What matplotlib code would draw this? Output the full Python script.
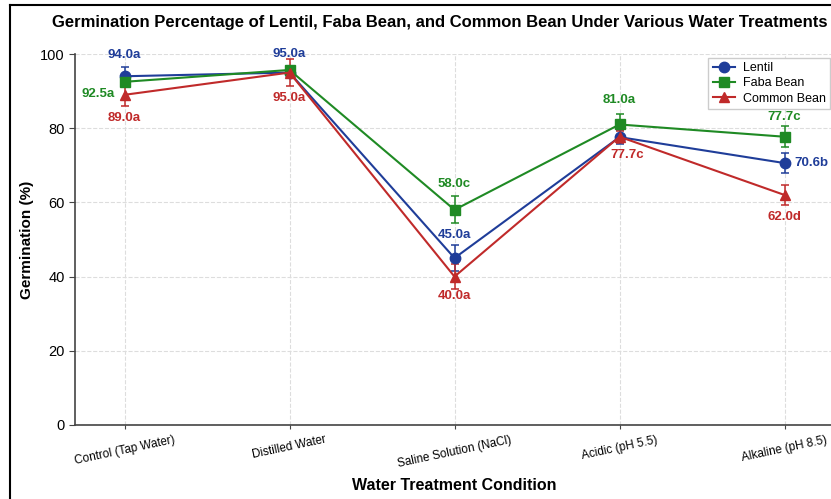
import matplotlib.pyplot as plt
from matplotlib.lines import Line2D
import numpy as np

plt.rcParams['font.family'] = ['Liberation Sans', 'DejaVu Sans']

# treatments on the x axis
treatments = ['Control (Tap Water)', 'Distilled Water', 'Saline Solution (NaCl)',
              'Acidic (pH 5.5)', 'Alkaline (pH 8.5)']

# mean germination (%) per crop
lentil = [94.0, 95.0, 45.0, 77.6, 70.6]
faba = [92.5, 95.7, 58.0, 81.0, 77.7]
common = [89.0, 95.0, 40.0, 77.7, 62.0]

# standard errors
lentil_err = [2.6, 1.6, 3.4, 1.8, 2.8]
faba_err = [1.2, 1.0, 3.6, 2.8, 2.8]
common_err = [3.0, 3.6, 3.4, 1.6, 2.8]

# significance letters (None = not printed)
lentil_sig = ['94.0a', '95.0a', '45.0a', None, '70.6b']
faba_sig = ['92.5a', None, '58.0c', '81.0a', '77.7c']
common_sig = ['89.0a', '95.0a', '40.0a', '77.7c', '62.0d']

c_lentil = '#1f3d99'
c_faba = '#1f8a24'
c_common = '#c02a2a'

fig = plt.figure(figsize=(8.31, 4.99), dpi=100)
ax = fig.add_axes([75 / 831, 74 / 499, 759 / 831, 371 / 499])
x = np.arange(len(treatments))

series = [
    ('Lentil', lentil, lentil_err, lentil_sig, c_lentil, 'o', 7.5),
    ('Faba Bean', faba, faba_err, faba_sig, c_faba, 's', 6.5),
    ('Common Bean', common, common_err, common_sig, c_common, '^', 7.5),
]
for name, vals, err, sig, col, mk, ms in series:
    ax.errorbar(x, vals, yerr=err, color=col, marker=mk, markersize=ms,
                linewidth=1.5, elinewidth=1.1, capsize=3, capthick=1.1,
                label=name, zorder=3)

# offsets of the value labels, in pixels from each marker
px = 0.72
lentil_off = [(0, 21), (0, 19), (0, 23), (0, 0), (27, 0)]
faba_off = [(-26, -12), (0, 0), (0, 26), (0, 24), (0, 20)]
common_off = [(0, -23), (0, -25), (0, -19), (8, -18), (0, -22)]

for (name, vals, err, sig, col, mk, ms), offs in zip(series, [lentil_off, faba_off, common_off]):
    for i, s in enumerate(sig):
        if s is None:
            continue
        dx, dy = offs[i]
        ax.annotate(s, (x[i], vals[i]), xytext=(dx * px, dy * px),
                    textcoords='offset points', ha='center', va='center',
                    fontsize=9.5, fontweight='bold', color=col, zorder=4)

ax.set_xlim(-0.3, 4.3)
ax.set_ylim(0, 100)
ax.set_yticks([0, 20, 40, 60, 80, 100])
ax.set_xticks(x)
ax.set_xticklabels(treatments, rotation=12, ha='center', fontsize=8.5)
ax.tick_params(axis='y', labelsize=10.5, length=4, color='#444444')
ax.tick_params(axis='x', length=3, color='#444444')
ax.grid(True, linestyle='--', color='#dddddd', linewidth=0.8)
ax.set_axisbelow(True)
for sp in ['top', 'right']:
    ax.spines[sp].set_visible(False)
for sp in ['left', 'bottom']:
    ax.spines[sp].set_color('#444444')
    ax.spines[sp].set_linewidth(1.2)

ax.set_xlabel('Water Treatment Condition', fontsize=11.5, fontweight='bold', labelpad=6)
ax.set_ylabel('Germination (%)', fontsize=11, fontweight='bold', labelpad=4)
fig.text(440 / 831, 1 - 23 / 499,
         'Germination Percentage of Lentil, Faba Bean, and Common Bean Under Various Water Treatments',
         ha='center', va='center', fontsize=12.0, fontweight='bold')

handles = [Line2D([], [], color=c, marker=m, markersize=ms, linewidth=1.5)
           for _, _, _, _, c, m, ms in series]
ax.legend(handles, [s[0] for s in series], loc='upper right', fontsize=9,
          bbox_to_anchor=(755 / 759, 1 - 4 / 371), borderaxespad=0,
          frameon=True, framealpha=1, fancybox=False,
          edgecolor='#cccccc', handlelength=1.8, handletextpad=0.6,
          borderpad=0.35, labelspacing=0.25)

# outer frame on the left and top edges
fig.add_artist(Line2D([10 / 831, 10 / 831], [0, 1 - 5 / 499], color='black', linewidth=1.5,
                      transform=fig.transFigure))
fig.add_artist(Line2D([10 / 831, 1], [1 - 5 / 499, 1 - 5 / 499], color='black', linewidth=1.5,
                      transform=fig.transFigure))

fig.savefig('out.png', dpi=100)
